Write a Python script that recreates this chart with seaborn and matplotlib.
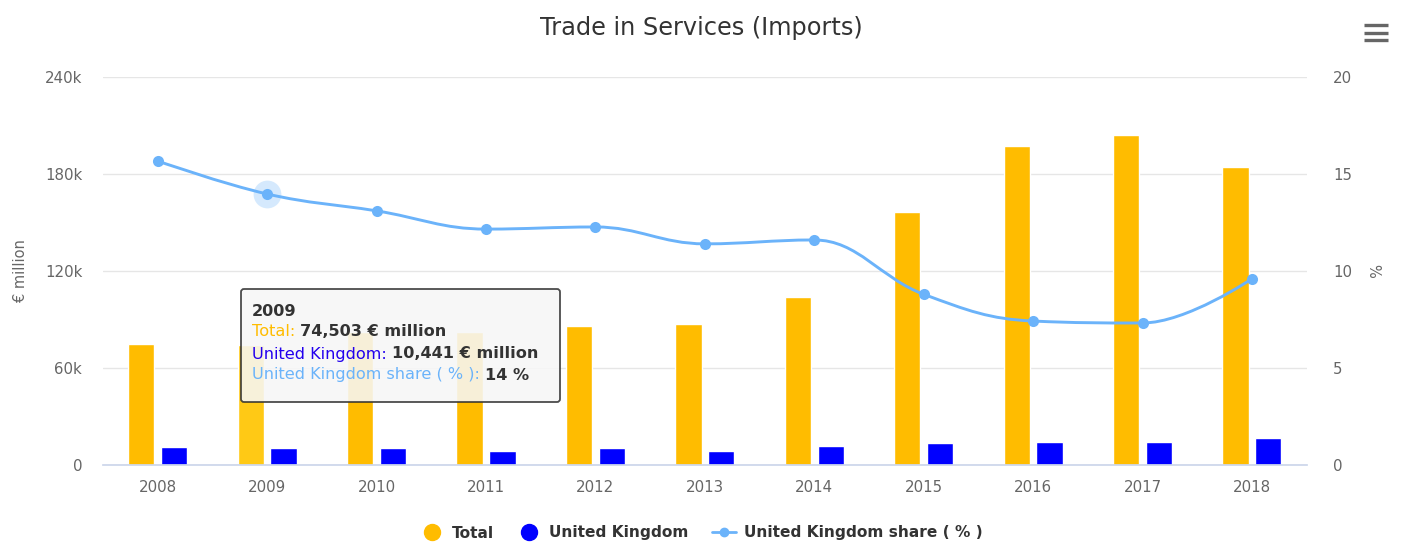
import numpy as np
import pandas as pd
import matplotlib
matplotlib.use("Agg")
import matplotlib.pyplot as plt
import seaborn as sns
from matplotlib.path import Path
from matplotlib.patches import PathPatch, FancyBboxPatch
from matplotlib.lines import Line2D
from matplotlib.transforms import IdentityTransform
from matplotlib.ticker import FuncFormatter

# data
years = ["2008", "2009", "2010", "2011", "2012", "2013", "2014", "2015", "2016", "2017", "2018"]
total = [74800, 74503, 82300, 82000, 86200, 87200, 103900, 156500, 197500, 203900, 184100]
uk = [10900, 10441, 10400, 8900, 10400, 8900, 11500, 13400, 14200, 14200, 16900]
uk_share = [15.67, 13.97, 13.1, 12.16, 12.27, 11.4, 11.6, 8.8, 7.42, 7.32, 9.6]

c_total = "#FFBC00"
c_uk = "#0000FF"
c_share = "#6BB3FA"
c_text = "#333333"
c_tick = "#666666"


def spline_path(xs, ys, smoothing=1.5):
    # highcharts style spline through the points
    denom = smoothing + 1
    n = len(xs)
    left = [None] * n
    right = [None] * n
    for i in range(1, n - 1):
        lx, ly = xs[i - 1], ys[i - 1]
        nx, ny = xs[i + 1], ys[i + 1]
        px, py = xs[i], ys[i]
        lcx = (smoothing * px + lx) / denom
        lcy = (smoothing * py + ly) / denom
        rcx = (smoothing * px + nx) / denom
        rcy = (smoothing * py + ny) / denom
        if rcx != lcx:
            corr = ((rcy - lcy) * (rcx - px)) / (rcx - lcx) + py - rcy
            lcy += corr
            rcy += corr
        if lcy > ly and lcy > py:
            lcy = max(ly, py); rcy = 2 * py - lcy
        elif lcy < ly and lcy < py:
            lcy = min(ly, py); rcy = 2 * py - lcy
        if rcy > ny and rcy > py:
            rcy = max(ny, py); lcy = 2 * py - rcy
        elif rcy < ny and rcy < py:
            rcy = min(ny, py); lcy = 2 * py - rcy
        left[i] = (lcx, lcy)
        right[i] = (rcx, rcy)
    verts = [(xs[0], ys[0])]
    codes = [Path.MOVETO]
    for i in range(1, n):
        c1 = right[i - 1] or (xs[i - 1], ys[i - 1])
        c2 = left[i] or (xs[i], ys[i])
        verts += [c1, c2, (xs[i], ys[i])]
        codes += [Path.CURVE4] * 3
    return Path(verts, codes)


df = pd.DataFrame({
    "year": years * 2,
    "series": ["Total"] * len(years) + ["United Kingdom"] * len(years),
    "value": total + uk,
})

sns.set_theme(style="white")
plt.rcParams["font.family"] = ["DejaVu Sans"]

fig = plt.figure(figsize=(14.02, 5.45), dpi=100)
ax = fig.add_axes([0.0735, 0.1468, 0.8585, 0.7119])

sns.barplot(data=df, x="year", y="value", hue="series", order=years,
            hue_order=["Total", "United Kingdom"], palette=[c_total, c_uk],
            width=0.6, gap=0.2, saturation=1, legend=False, ax=ax, zorder=2)
# hovered bar is drawn a bit brighter
ax.patches[1].set_facecolor("#FFC915")

ax.set_ylim(0, 240000)
ax.set_yticks([0, 60000, 120000, 180000, 240000])
ax.yaxis.set_major_formatter(FuncFormatter(lambda v, p: "0" if v == 0 else f"{int(v/1000)}k"))
ax.set_xlim(-0.5, len(years) - 0.5)
ax.grid(axis="y", color="#e6e6e6", lw=1, zorder=0)
ax.set_axisbelow(True)
for s in ["top", "left", "right"]:
    ax.spines[s].set_visible(False)
ax.spines["bottom"].set_color("#ccd6eb")
ax.tick_params(axis="both", length=0, colors=c_tick, labelsize=10.8)
ax.tick_params(axis="y", pad=15)
ax.tick_params(axis="x", pad=11)
ax.set_xlabel("")
ax.set_ylabel("€ million", color=c_tick, fontsize=10.5, labelpad=12)

ax2 = ax.twinx()
ax2.set_ylim(0, 20)
ax2.set_yticks([0, 5, 10, 15, 20])
for s in ax2.spines.values():
    s.set_visible(False)
ax2.tick_params(axis="y", length=0, colors=c_tick, labelsize=10.8, pad=19)
ax2.set_ylabel("%", color=c_tick, fontsize=10.5, rotation=-90, labelpad=20)

xs = list(range(len(years)))
ax2.add_patch(PathPatch(spline_path(xs, uk_share), fill=False, edgecolor=c_share, lw=2.1, zorder=3))
ax2.scatter([xs[1]], [uk_share[1]], s=400, color=c_share, alpha=0.28, lw=0, zorder=3)
sns.scatterplot(x=xs, y=uk_share, color=c_share, s=64, linewidth=0, ax=ax2, zorder=4)
ax2.set_xlim(-0.5, len(years) - 0.5)

fig.text(0.5, 1 - 28 / 545, "Trade in Services (Imports)", ha="center", va="center",
         fontsize=17.3, color=c_text)

handles = [
    Line2D([], [], ls="none", marker="o", ms=11.5, color=c_total, label="Total"),
    Line2D([], [], ls="none", marker="o", ms=11.5, color=c_uk, label="United Kingdom"),
    Line2D([], [], ls="-", lw=2, marker="o", ms=6, color=c_share, label="United Kingdom share ( % )"),
]
leg = fig.legend(handles=handles, loc="center", bbox_to_anchor=(0.5, 1 - 533 / 545), ncol=3,
                 frameon=False, prop={"weight": "bold", "size": 11.1}, handlelength=1.6,
                 handletextpad=0.5, columnspacing=1.5)
for t in leg.get_texts():
    t.set_color(c_text)

# menu icon
for yy in [25, 32.5, 40]:
    fig.add_artist(Line2D([1364, 1388], [545 - yy, 545 - yy], lw=2.4, color="#666666",
                          solid_capstyle="butt", transform=IdentityTransform()))

# hover tooltip for 2009
tip = FancyBboxPatch((241, 545 - 402), 319, 113, boxstyle="round,pad=0,rounding_size=3",
                     transform=IdentityTransform(), facecolor="#f7f7f7", alpha=0.88,
                     edgecolor="#333333", lw=1.3)
fig.add_artist(tip)
tip_fs = 11.6
fig.text(252, 545 - 311, years[1], transform=IdentityTransform(), fontsize=tip_fs,
         weight="bold", color=c_text, va="center")
rows = [
    ("Total: ", c_total, f"{total[1]:,} € million", 332),
    ("United Kingdom: ", "#2200EE", f"{uk[1]:,} € million", 354),
    ("United Kingdom share ( % ): ", c_share, f"{round(uk_share[1])} %", 375),
]
for lab, col, val, ypix in rows:
    t1 = fig.text(252, 545 - ypix, lab, transform=IdentityTransform(), fontsize=tip_fs,
                  color=col, va="center")
    fig.add_artist(plt.Annotation(val, xy=(1, 0.5), xycoords=t1, va="center", ha="left",
                                  fontsize=tip_fs, weight="bold", color=c_text))

fig.savefig("out.png", dpi=100)
